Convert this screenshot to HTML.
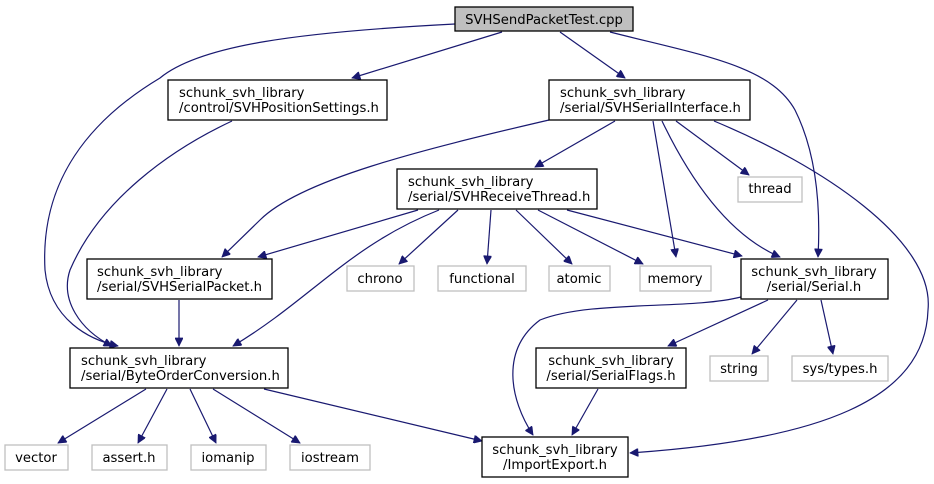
<!DOCTYPE html>
<html><head><meta charset="utf-8"><style>
body{margin:0;background:#fff}
svg{display:block}
text{font-family:"DejaVu Sans","Liberation Sans",sans-serif;font-size:13.2px;fill:#000}
.n{fill:#fff;stroke:#000;stroke-width:1.3}
.g{fill:#fff;stroke:#bfbfbf;stroke-width:1.3}
.e{fill:none;stroke:#191970;stroke-width:1.2}
</style></head><body>
<svg width="934" height="484" viewBox="0 0 934 484" xmlns="http://www.w3.org/2000/svg">
<defs><marker id="a" viewBox="0 0 10 10" refX="10" refY="5" markerWidth="10" markerHeight="8" markerUnits="userSpaceOnUse" orient="auto"><path d="M0,0L10,5L0,10z" fill="#191970" stroke="#191970"/></marker></defs>
<g marker-end="url(#a)">
<path class="e" d="M502,32 L352,78"/>
<path class="e" d="M560,32 L625,78"/>
<path class="e" d="M455,24 C300,32 200,45 160,78 C90,120 40,180 45,270 C50,320 90,340 118,346"/>
<path class="e" d="M610,32 C700,55 770,65 795,110 C820,160 820,220 818,257"/>
<path class="e" d="M232,121 C170,150 100,200 70,270 C60,300 80,330 112,346"/>
<path class="e" d="M615,121 L535,167"/>
<path class="e" d="M549,120 C420,150 300,180 260,220 L222,257"/>
<path class="e" d="M653,121 L676,257"/>
<path class="e" d="M662,121 C700,200 740,240 780,257"/>
<path class="e" d="M676,121 L749,175"/>
<path class="e" d="M714,121 C820,165 935,240 928,310 C925,400 820,440 630,453"/>
<path class="e" d="M439,210 C350,245 310,300 233,346"/>
<path class="e" d="M418,210 L258,257"/>
<path class="e" d="M458,210 L399,264"/>
<path class="e" d="M491,210 L487,264"/>
<path class="e" d="M516,210 L572,264"/>
<path class="e" d="M538,210 L643,264"/>
<path class="e" d="M567,210 L742,256"/>
<path class="e" d="M179,300 L179,346"/>
<path class="e" d="M146,389 L58,443"/>
<path class="e" d="M167,389 L138,443"/>
<path class="e" d="M190,389 L216,443"/>
<path class="e" d="M213,389 L300,443"/>
<path class="e" d="M264,389 L482,441"/>
<path class="e" d="M741,297 C690,310 590,300 540,320 C500,350 510,400 533,435"/>
<path class="e" d="M768,300 L668,346"/>
<path class="e" d="M797,300 L752,354"/>
<path class="e" d="M821,300 L833,354"/>
<path class="e" d="M598,389 L572,435"/>
</g>
<rect x="455" y="7" width="178" height="24" style="fill:#bfbfbf;stroke:#000;stroke-width:1.3"/>
<text x="544" y="24" text-anchor="middle">SVHSendPacketTest.cpp</text>

<rect class="n" x="168" y="80" width="219" height="40"/>
<text x="179" y="97">schunk_svh_library</text><text x="179" y="112">/control/SVHPositionSettings.h</text>

<rect class="n" x="549" y="80" width="201" height="40"/>
<text x="560" y="97">schunk_svh_library</text><text x="560" y="112">/serial/SVHSerialInterface.h</text>

<rect class="n" x="397" y="169" width="200" height="40"/>
<text x="408" y="186">schunk_svh_library</text><text x="408" y="201">/serial/SVHReceiveThread.h</text>

<rect class="g" x="738" y="177" width="64" height="25"/><text x="770" y="193" text-anchor="middle">thread</text>

<rect class="n" x="87" y="259" width="185" height="40"/>
<text x="97" y="276">schunk_svh_library</text><text x="97" y="291">/serial/SVHSerialPacket.h</text>

<rect class="g" x="347" y="266" width="67" height="25"/><text x="380" y="283" text-anchor="middle">chrono</text>
<rect class="g" x="438" y="266" width="88" height="25"/><text x="482" y="283" text-anchor="middle">functional</text>
<rect class="g" x="549" y="266" width="61" height="25"/><text x="579" y="283" text-anchor="middle">atomic</text>
<rect class="g" x="640" y="266" width="71" height="25"/><text x="675" y="283" text-anchor="middle">memory</text>

<rect class="n" x="741" y="259" width="147" height="40"/>
<text x="814" y="276" text-anchor="middle">schunk_svh_library</text><text x="814" y="291" text-anchor="middle">/serial/Serial.h</text>

<rect class="n" x="70" y="348" width="218" height="40"/>
<text x="81" y="365">schunk_svh_library</text><text x="81" y="380">/serial/ByteOrderConversion.h</text>

<rect class="n" x="536" y="348" width="150" height="40"/>
<text x="611" y="365" text-anchor="middle">schunk_svh_library</text><text x="611" y="380" text-anchor="middle">/serial/SerialFlags.h</text>

<rect class="g" x="710" y="356" width="58" height="25"/><text x="739" y="373" text-anchor="middle">string</text>
<rect class="g" x="792" y="356" width="96" height="25"/><text x="840" y="373" text-anchor="middle">sys/types.h</text>

<rect class="g" x="5" y="445" width="63" height="25"/><text x="36" y="462" text-anchor="middle">vector</text>
<rect class="g" x="92" y="445" width="75" height="25"/><text x="129" y="462" text-anchor="middle">assert.h</text>
<rect class="g" x="191" y="445" width="75" height="25"/><text x="228" y="462" text-anchor="middle">iomanip</text>
<rect class="g" x="290" y="445" width="80" height="25"/><text x="330" y="462" text-anchor="middle">iostream</text>

<rect class="n" x="482" y="437" width="146" height="40"/>
<text x="555" y="454" text-anchor="middle">schunk_svh_library</text><text x="555" y="469" text-anchor="middle">/ImportExport.h</text>
</svg>
</body></html>
